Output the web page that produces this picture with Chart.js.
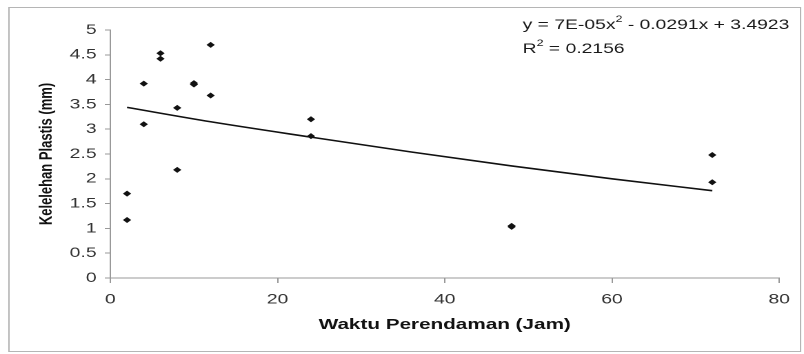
<!DOCTYPE html>
<html>
<head>
<meta charset="utf-8">
<script src="https://cdn.jsdelivr.net/npm/chart.js@4.4.1/dist/chart.umd.min.js"></script>
<style>
  body { margin: 0; background: #fff; }
  #wrap { position: relative; width: 804px; height: 354px; overflow: hidden; }
  /* the original picture is stretched sideways, so draw narrow and stretch */
  #stretch { width: 583px; height: 354px; transform: scaleX(1.379); transform-origin: 0 0; }
</style>
</head>
<body>
<div id="wrap">
  <div id="stretch"><canvas id="myChart" width="583" height="354"></canvas></div>
</div>
<script>
// measured points
var waktu = [2, 2, 4, 4, 6, 6, 8, 8, 10, 10, 12, 12, 24, 24, 48, 48, 72, 72];
var kelelehan = [1.7, 1.17, 3.92, 3.1, 4.53, 4.42, 3.43, 2.18, 3.93, 3.9, 4.7, 3.68, 3.2, 2.86, 1.03, 1.05, 2.48, 1.93];

// polynomial trend line
var trendX = [2, 12, 24, 36, 48, 60, 72];
var trendY = [3.44, 3.15, 2.84, 2.54, 2.26, 2.0, 1.76];

var yTicks = [0, 0.5, 1, 1.5, 2, 2.5, 3, 3.5, 4, 4.5, 5];
var xTicks = [0, 20, 40, 60, 80];

var persamaan = ['y = 7E-05x', '2', ' - 0.0291x + 3.4923'];
var rKuadrat = ['R', '2', ' = 0.2156'];

function toPoints(xs, ys) {
  return xs.map(function(x, i) { return { x: x, y: ys[i] }; });
}

// outer frame and the trend line equation
var extras = {
  id: 'extras',
  beforeDraw: function(chart) {
    var ctx = chart.ctx;
    ctx.save();
    ctx.fillStyle = '#fff';
    ctx.fillRect(0, 0, chart.width, chart.height);
    ctx.strokeStyle = '#b5b5b5';
    ctx.lineWidth = 1;
    ctx.strokeRect(6.5, 7.5, 574, 344);
    ctx.restore();
  },
  afterDraw: function(chart) {
    var ctx = chart.ctx;
    ctx.save();
    ctx.fillStyle = '#1a1a1a';
    ctx.textBaseline = 'alphabetic';
    function writeSup(parts, x, y) {
      ctx.font = '14px "Liberation Sans", Arial, sans-serif';
      ctx.fillText(parts[0], x, y);
      x += ctx.measureText(parts[0]).width;
      ctx.font = '9px "Liberation Sans", Arial, sans-serif';
      ctx.fillText(parts[1], x, y - 7);
      x += ctx.measureText(parts[1]).width;
      ctx.font = '14px "Liberation Sans", Arial, sans-serif';
      ctx.fillText(parts[2], x, y);
    }
    writeSup(persamaan, 379, 29);
    writeSup(rKuadrat, 379, 53);
    ctx.restore();
  }
};

var ctx = document.getElementById('myChart').getContext('2d');
var myChart = new Chart(ctx, {
  type: 'scatter',
  data: {
    datasets: [
      {
        label: 'Kelelehan',
        data: toPoints(waktu, kelelehan),
        pointStyle: 'rectRot',
        pointRadius: 3,
        backgroundColor: '#111',
        borderColor: '#111',
        borderWidth: 0
      },
      {
        label: 'Poly. (Kelelehan)',
        data: toPoints(trendX, trendY),
        showLine: true,
        pointRadius: 0,
        borderColor: '#111',
        borderWidth: 1.6,
        cubicInterpolationMode: 'monotone',
        fill: false
      }
    ]
  },
  options: {
    responsive: false,
    animation: false,
    devicePixelRatio: 2,
    layout: { padding: { left: 5, right: 18, top: 30, bottom: 10 } },
    plugins: {
      legend: { display: false },
      tooltip: { enabled: false }
    },
    scales: {
      x: {
        type: 'linear',
        min: 0,
        max: 80,
        afterBuildTicks: function(scale) {
          scale.ticks = xTicks.map(function(v) { return { value: v }; });
        },
        afterFit: function(scale) { scale.height = 66; },
        grid: { drawOnChartArea: false, drawTicks: true, tickLength: 5, color: '#999' },
        border: { color: '#999', width: 1 },
        ticks: {
          padding: 8,
          color: '#333',
          callback: function(value) { return String(value); },
          font: { family: '"Liberation Sans", Arial, sans-serif', size: 14 }
        },
        title: {
          display: true,
          text: 'Waktu Perendaman (Jam)',
          color: '#111',
          padding: { top: 0, bottom: 10 },
          font: { family: '"Liberation Sans", Arial, sans-serif', size: 15, weight: 'bold' }
        }
      },
      y: {
        min: 0,
        max: 5,
        afterBuildTicks: function(scale) {
          scale.ticks = yTicks.map(function(v) { return { value: v }; });
        },
        afterFit: function(scale) { scale.width = 75; },
        grid: { drawOnChartArea: false, drawTicks: true, tickLength: 4, color: '#999' },
        border: { color: '#999', width: 1 },
        ticks: {
          padding: 6,
          color: '#333',
          callback: function(value) { return String(value); },
          font: { family: '"Liberation Sans", Arial, sans-serif', size: 14 }
        },
        title: {
          display: true,
          text: 'Kelelehan Plastis (mm)',
          color: '#111',
          padding: { top: 21, bottom: 0 },
          font: { family: '"Liberation Sans", Arial, sans-serif', size: 13, weight: 'bold' }
        }
      }
    }
  },
  plugins: [extras]
});
</script>
</body>
</html>
